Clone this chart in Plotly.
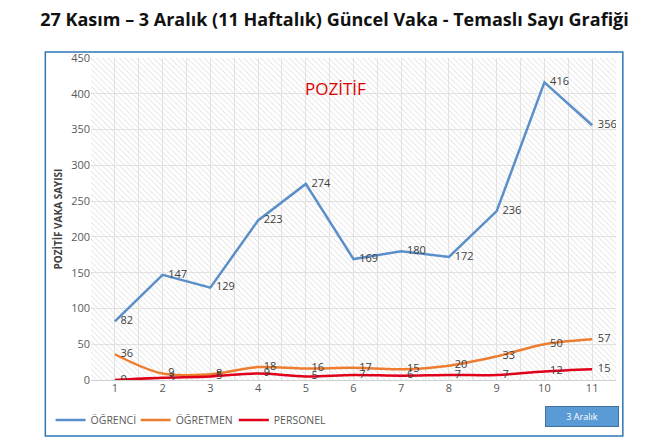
import plotly.graph_objects as go

# Weekly positive cases (27 Kasım - 3 Aralık, 11 weeks)
weeks = [1, 2, 3, 4, 5, 6, 7, 8, 9, 10, 11]
ogrenci = [82, 147, 129, 223, 274, 169, 180, 172, 236, 416, 356]
ogretmen = [36, 9, 8, 18, 16, 17, 15, 20, 33, 50, 57]
personel = [0, 3, 5, 9, 5, 7, 6, 7, 7, 12, 15]

y_ticks = [0, 50, 100, 150, 200, 250, 300, 350, 400, 450]
y_max = 450

label_font = dict(family="Open Sans, DejaVu Sans, sans-serif", size=11, color="#404040")

fig = go.Figure()

# hatched plot-area background (Excel style)
fig.add_trace(go.Bar(
    x=[(weeks[0] + weeks[-1]) / 2], y=[y_max], width=[len(weeks)],
    marker=dict(color="#D8D8D8", line_width=0,
                pattern=dict(shape="\\", fgcolor="#D8D8D8", bgcolor="rgba(255,255,255,0)",
                             fillmode="replace", size=4, solidity=0.2)),
    hoverinfo="skip", showlegend=False,
))

fig.add_trace(go.Scatter(
    x=weeks, y=ogrenci, name="ÖĞRENCİ", mode="lines+text", legend="legend",
    line=dict(color="#5B8FC9", width=2.5),
    text=ogrenci, texttemplate="  %{text}", textposition="middle right",
    textfont=label_font,
))
fig.add_trace(go.Scatter(
    x=weeks, y=ogretmen, name="ÖĞRETMEN", mode="lines+text", legend="legend2",
    line=dict(color="#ED7D31", width=2.5, shape="spline"),
    text=ogretmen, texttemplate="  %{text}", textposition="middle right",
    textfont=label_font,
))
fig.add_trace(go.Scatter(
    x=weeks, y=personel, name="PERSONEL", mode="lines+text", legend="legend3",
    line=dict(color="#E0001A", width=2.5, shape="spline"),
    text=personel, texttemplate="  %{text}", textposition="middle right",
    textfont=label_font,
))

legend_style = dict(orientation="h", y=-0.124, xanchor="left", yanchor="middle",
                    font=dict(size=10.5, color="#595959"), bgcolor="rgba(0,0,0,0)")

fig.update_layout(
    width=653, height=447,
    margin=dict(l=83, r=45, t=50, b=75, autoexpand=False),
    paper_bgcolor="white", plot_bgcolor="white",
    font=dict(family="Open Sans, DejaVu Sans, sans-serif", color="#595959"),
    title=dict(
        text="<b>27 Kasım – 3 Aralık (11 Haftalık) Güncel Vaka - Temaslı Sayı Grafiği</b>",
        x=0.5, xanchor="center", y=0.974, yanchor="middle",
        font=dict(size=18, color="#111111"),
    ),
    showlegend=True,
    legend=dict(x=-0.077, **legend_style),
    legend2=dict(x=0.085, **legend_style),
    legend3=dict(x=0.272, **legend_style),
    bargap=0,
)

fig.update_xaxes(
    range=[0.5, 11.5], tickvals=weeks, showgrid=False, zeroline=False,
    showline=False, ticks="", tickfont=dict(size=11, color="#595959"),
    minor=dict(dtick=0.5, tick0=0.5, showgrid=True, gridcolor="#E3E3E3", gridwidth=1),
)
fig.update_yaxes(
    range=[0, y_max], tickvals=y_ticks, showgrid=True, gridcolor="#E3E3E3",
    zeroline=True, zerolinecolor="#D0D0D0", zerolinewidth=1,
    ticks="", tickfont=dict(size=11, color="#595959"),
    title=dict(text="<b>POZİTİF VAKA SAYISI</b>", font=dict(size=10, color="#404040"), standoff=6),
)

# outer chart border
fig.add_shape(type="rect", xref="paper", yref="paper",
              x0=-0.087, x1=1.013, y0=-0.174, y1=1.019,
              line=dict(color="#2E75B6", width=1.5), fillcolor="rgba(0,0,0,0)")

fig.add_annotation(text="POZİTİF", xref="paper", yref="paper", x=0.465, y=0.947,
                   showarrow=False, font=dict(size=17, color="#E00000"))

# "3 Aralık" button
fig.add_annotation(text="3 Aralık", xref="paper", yref="paper", x=0.935, y=-0.112,
                   xanchor="center", yanchor="middle", showarrow=False,
                   font=dict(size=9, color="white"),
                   bgcolor="#5B9BD5", bordercolor="#41719C", borderwidth=1,
                   width=70, height=17)

fig.write_html("out.html")
